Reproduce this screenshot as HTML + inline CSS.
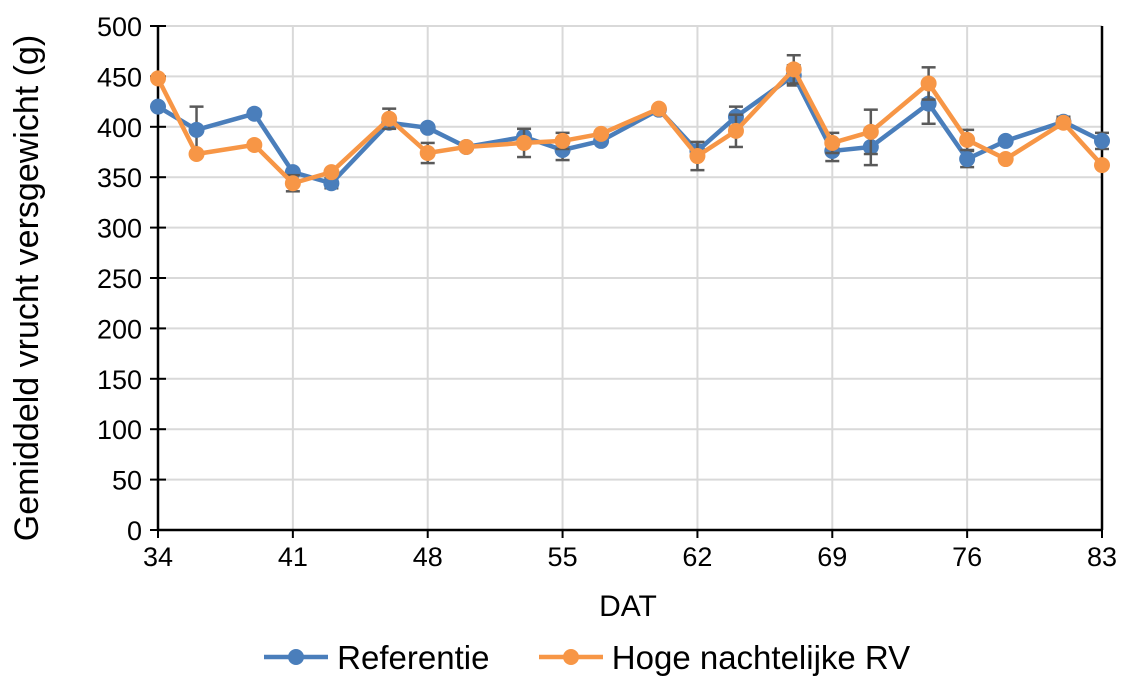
<!DOCTYPE html>
<html><head><meta charset="utf-8"><style>
body{margin:0;background:#fff;font-family:"Liberation Sans",sans-serif}
svg text{font-family:"Liberation Sans",sans-serif;fill:#000}
</style></head><body>
<svg id="c" width="1125" height="681" style="position:absolute;left:0;top:0"></svg>
<script>
const days=[34,36,39,41,43,46,48,50,53,55,57,60,62,64,67,69,71,74,76,78,81,83];
const refVals=[420,397,413,355,344,404,399,380,390,377,386,417,376,410,451,376,380,423,368,386,405,386];
const hogeVals=[448,373,382,344,355,408,374,380,384,386,393,418,371,396,457,384,395,443,387,368,404,362];
const refErr=[0,23,0,0,5,0,0,0,8,10,0,0,6,10,10,10,18,20,8,0,5,8];
const hogeErr=[0,0,0,8,0,10,10,0,14,8,0,0,14,16,14,10,22,16,10,0,5,0];
const xTicks=[34,41,48,55,62,69,76,83];
const yTicks=[0,50,100,150,200,250,300,350,400,450,500];
const NS="http://www.w3.org/2000/svg";
const svg=document.getElementById('c');
const X0=158,X1=1102,Y0=530,Y1=26;
const xs=d=>X0+(d-34)/(83-34)*(X1-X0);
const ys=v=>Y0-v/500*(Y0-Y1);
function mk(t,a,p){const e=document.createElementNS(NS,t);for(const k in a)e.setAttribute(k,a[k]);(p||svg).appendChild(e);return e;}
xTicks.forEach(d=>{const l=mk('line',{x1:xs(d),x2:xs(d),y1:Y1,y2:Y0,stroke:'#d9d9d9','stroke-width':2});


const t=mk('text',{x:xs(d),y:Y0+36,'font-size':27,'text-anchor':'middle'});t.textContent=d;

});
yTicks.forEach(v=>{const l=mk('line',{x1:X0,x2:X1,y1:ys(v),y2:ys(v),stroke:'#d9d9d9','stroke-width':2});


mk('line',{x1:X0-8,x2:X0+8,y1:ys(v),y2:ys(v),stroke:'#000','stroke-width':2});
const t=mk('text',{x:X0-16,y:ys(v)+10,'font-size':27,'text-anchor':'end'});t.textContent=v;

});
mk('line',{x1:X0,x2:X0,y1:Y1,y2:Y0,stroke:'#000','stroke-width':2.5});
mk('line',{x1:X1,x2:X1,y1:Y1,y2:Y0,stroke:'#000','stroke-width':2.5});
mk('line',{x1:X0,x2:X1,y1:Y0,y2:Y0,stroke:'#000','stroke-width':2.5});
xTicks.forEach(d=>mk('line',{x1:xs(d),x2:xs(d),y1:Y0,y2:Y0+8,stroke:'#000','stroke-width':2}));
function series(vals,errs,color,name){
 const g=mk('g',{});
 
 
 vals.forEach((v,i)=>{if(errs[i]>0){const x=xs(days[i]);
  mk('line',{x1:x,x2:x,y1:ys(v-errs[i]),y2:ys(v+errs[i]),stroke:'#595959','stroke-width':2.5},g);
  mk('line',{x1:x-7,x2:x+7,y1:ys(v-errs[i]),y2:ys(v-errs[i]),stroke:'#595959','stroke-width':2.5},g);
  mk('line',{x1:x-7,x2:x+7,y1:ys(v+errs[i]),y2:ys(v+errs[i]),stroke:'#595959','stroke-width':2.5},g);}});
 mk('polyline',{points:vals.map((v,i)=>xs(days[i])+','+ys(v)).join(' '),fill:'none',stroke:color,'stroke-width':4.5},g);
 vals.forEach((v,i)=>{const c=mk('circle',{cx:xs(days[i]),cy:ys(v),r:8,fill:color},g);
  
  });
}
series(refVals,refErr,'#4a7ebb','series-referentie');
series(hogeVals,hogeErr,'#f79646','series-hoge-nachtelijke-rv');
</script>
<div style="position:absolute;left:-273px;top:270px;width:600px;text-align:center;transform:rotate(-90deg);font-size:34px;line-height:36px;white-space:nowrap">Gemiddeld vrucht versgewicht (g)</div>
<div style="position:absolute;left:578px;top:590px;width:100px;text-align:center;font-size:30px">DAT</div>
<div style="position:absolute;left:264px;top:639px;font-size:33px;white-space:nowrap">
<span><svg width="64" height="20" style="vertical-align:2px"><line x1="0" x2="64" y1="10" y2="10" stroke="#4a7ebb" stroke-width="4.5"/><circle cx="32" cy="10" r="8" fill="#4a7ebb"/></svg> Referentie</span>
<span style="margin-left:40px"><svg width="64" height="20" style="vertical-align:2px"><line x1="0" x2="64" y1="10" y2="10" stroke="#f79646" stroke-width="4.5"/><circle cx="32" cy="10" r="8" fill="#f79646"/></svg> Hoge nachtelijke RV</span>
</div>
</body></html>
